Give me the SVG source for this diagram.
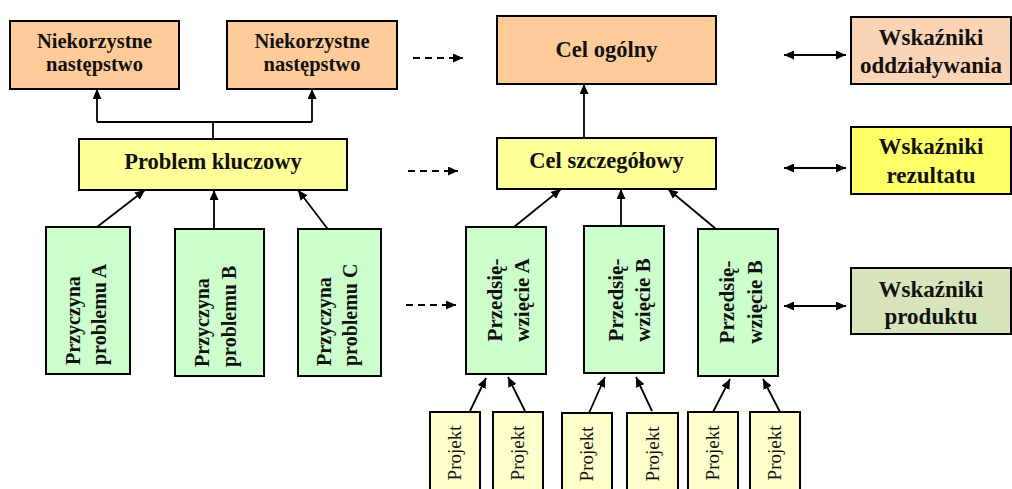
<svg xmlns="http://www.w3.org/2000/svg" width="1012" height="489" viewBox="0 0 1012 489">
  <defs>
    <marker id="head" viewBox="0 0 10 9" refX="10" refY="4.5" markerWidth="10" markerHeight="9" markerUnits="userSpaceOnUse" orient="auto-start-reverse">
      <path d="M0,0 L10,4.5 L0,9 z" fill="#000"/>
    </marker>
  </defs>
  <style>
    .box { stroke: #000; stroke-width: 2; }
    .orange { fill: #FFCC99; }
    .salmon { fill: #FBD4B6; }
    .yellow { fill: #FFFF99; }
    .bright { fill: #FFFF66; }
    .olive { fill: #D8E4BC; }
    .green { fill: #CCFFCC; }
    .cream { fill: #FFFFCC; }
    .lbl { font-family: "Liberation Serif", "Times New Roman", serif; font-weight: bold; fill: #111; }
    .c { text-anchor: middle; }
    .proj { font-family: "Liberation Serif", "Times New Roman", serif; font-size: 19px; fill: #111; text-anchor: middle; }
    .link { fill: none; stroke: #000; stroke-width: 1.8; }
    .arr { marker-end: url(#head); }
    .both { marker-start: url(#head); marker-end: url(#head); }
    .dash { stroke-dasharray: 7 5; }
  </style>

  <rect width="1012" height="489" fill="#fff"/>

  <!-- connectors -->
  <g id="connectors">
    <path class="link" d="M97,122 H312 M213,139 V122"/>
    <path class="link arr" d="M97,122 V89"/>
    <path class="link arr" d="M312,122 V89"/>
    <path class="link arr" d="M97,227 L145,190"/>
    <path class="link arr" d="M214,229 V190"/>
    <path class="link arr" d="M330,232 L298,190"/>
    <path class="link arr dash" d="M413,58 H463"/>
    <path class="link arr dash" d="M408,171 H458"/>
    <path class="link arr dash" d="M406,305 H456"/>
    <path class="link arr" d="M584,138 V84"/>
    <path class="link arr" d="M514,227 L561,189"/>
    <path class="link arr" d="M621,226 V189"/>
    <path class="link arr" d="M716,229 L668,189"/>
    <path class="link both" d="M784,55 H846"/>
    <path class="link both" d="M784,168 H846"/>
    <path class="link both" d="M784,306 H846"/>
    <path class="link arr" d="M470,411 L486,378"/>
    <path class="link arr" d="M525,411 L508,377"/>
    <path class="link arr" d="M589,413 L605,377"/>
    <path class="link arr" d="M652,411 L636,377"/>
    <path class="link arr" d="M713,412 L730,379"/>
    <path class="link arr" d="M780,412 L763,379"/>
  </g>

  <!-- consequences -->
  <g id="nastepstwo1">
    <rect class="box orange" x="10" y="21" width="169" height="68"/>
    <text class="lbl c" font-size="20.5" x="94.5" y="48">Niekorzystne<tspan x="94.5" y="71">następstwo</tspan></text>
  </g>
  <g id="nastepstwo2">
    <rect class="box orange" x="227" y="21" width="170" height="68"/>
    <text class="lbl c" font-size="20.5" x="312" y="48">Niekorzystne<tspan x="312" y="71">następstwo</tspan></text>
  </g>

  <g id="problem">
    <rect class="box yellow" x="79" y="139" width="268" height="51"/>
    <text class="lbl c" font-size="22.5" x="213" y="169">Problem kluczowy</text>
  </g>

  <!-- causes -->
  <g id="przyczynaA">
    <rect class="box green" x="46" y="227" width="84" height="147"/>
    <text class="lbl" font-size="20" transform="translate(80,365) rotate(-90)"><tspan x="0" y="0">Przyczyna</tspan><tspan x="0" y="26">problemu A</tspan></text>
  </g>
  <g id="przyczynaB">
    <rect class="box green" x="175" y="229" width="89" height="147"/>
    <text class="lbl" font-size="20" transform="translate(209,367) rotate(-90)"><tspan x="0" y="0">Przyczyna</tspan><tspan x="0" y="27">problemu B</tspan></text>
  </g>
  <g id="przyczynaC">
    <rect class="box green" x="298" y="229" width="83" height="147"/>
    <text class="lbl" font-size="20" transform="translate(331,366) rotate(-90)"><tspan x="0" y="0">Przyczyna</tspan><tspan x="0" y="26">problemu C</tspan></text>
  </g>

  <!-- objectives -->
  <g id="celOgolny">
    <rect class="box orange" x="497" y="16" width="219" height="68"/>
    <text class="lbl c" font-size="22.5" x="606.5" y="57">Cel ogólny</text>
  </g>
  <g id="celSzczegolowy">
    <rect class="box yellow" x="497" y="138" width="219" height="51"/>
    <text class="lbl c" font-size="22.5" x="606.5" y="168">Cel szczegółowy</text>
  </g>

  <!-- undertakings -->
  <g id="przedsiewziecieA">
    <rect class="box green" x="466" y="227" width="80" height="147"/>
    <text class="lbl c" font-size="21" transform="translate(502,300) rotate(-90)"><tspan x="0" y="0">Przedsię-</tspan><tspan x="0" y="27">wzięcie A</tspan></text>
  </g>
  <g id="przedsiewziecieB">
    <rect class="box green" x="584" y="226" width="80" height="147"/>
    <text class="lbl c" font-size="21" transform="translate(623,300) rotate(-90)"><tspan x="0" y="0">Przedsię-</tspan><tspan x="0" y="27">wzięcie B</tspan></text>
  </g>
  <g id="przedsiewziecieC">
    <rect class="box green" x="698" y="229" width="80" height="147"/>
    <text class="lbl c" font-size="21" transform="translate(734,302) rotate(-90)"><tspan x="0" y="0">Przedsię-</tspan><tspan x="0" y="28">wzięcie B</tspan></text>
  </g>

  <!-- projects -->
  <g id="projekt1">
    <rect class="box cream" x="430" y="412" width="50" height="90"/>
    <text class="proj" transform="translate(461,453) rotate(-90)">Projekt</text>
  </g>
  <g id="projekt2">
    <rect class="box cream" x="493" y="412" width="50" height="90"/>
    <text class="proj" transform="translate(524,453) rotate(-90)">Projekt</text>
  </g>
  <g id="projekt3">
    <rect class="box cream" x="562" y="413" width="50" height="90"/>
    <text class="proj" transform="translate(593,454) rotate(-90)">Projekt</text>
  </g>
  <g id="projekt4">
    <rect class="box cream" x="627" y="413" width="51" height="90"/>
    <text class="proj" transform="translate(658.5,454) rotate(-90)">Projekt</text>
  </g>
  <g id="projekt5">
    <rect class="box cream" x="688" y="412" width="50" height="90"/>
    <text class="proj" transform="translate(719,453) rotate(-90)">Projekt</text>
  </g>
  <g id="projekt6">
    <rect class="box cream" x="750" y="412" width="50" height="90"/>
    <text class="proj" transform="translate(781,453) rotate(-90)">Projekt</text>
  </g>

  <!-- indicators -->
  <g id="wskOddzialywania">
    <rect class="box salmon" x="851" y="17" width="160" height="67"/>
    <text class="lbl c" font-size="23" x="931" y="45">Wskaźniki<tspan x="931" y="73">oddziaływania</tspan></text>
  </g>
  <g id="wskRezultatu">
    <rect class="box bright" x="851" y="127" width="160" height="67"/>
    <text class="lbl c" font-size="23" x="931" y="154">Wskaźniki<tspan x="931" y="183">rezultatu</tspan></text>
  </g>
  <g id="wskProduktu">
    <rect class="box olive" x="851" y="268" width="160" height="66"/>
    <text class="lbl c" font-size="23" x="931" y="297">Wskaźniki<tspan x="931" y="324">produktu</tspan></text>
  </g>
</svg>
